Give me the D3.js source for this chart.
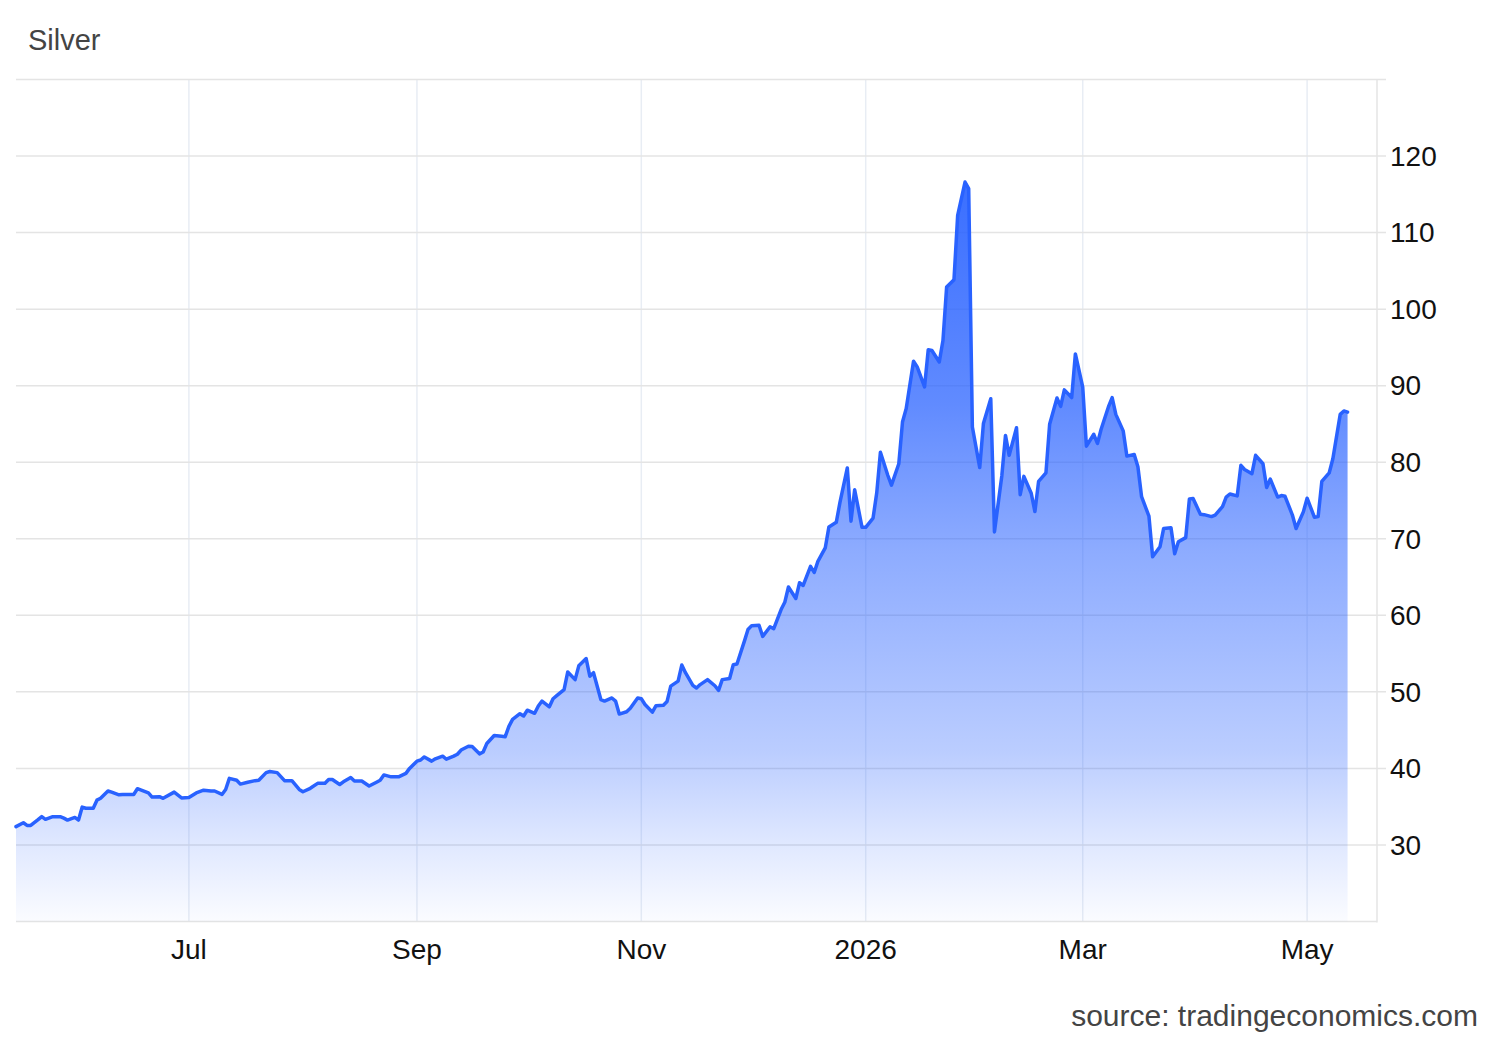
<!DOCTYPE html>
<html><head><meta charset="utf-8">
<script src="https://cdn.jsdelivr.net/npm/d3@7"></script>
<style>
html,body{margin:0;padding:0;background:#fff;}
svg{display:block;font-family:"Liberation Sans",Arial,Helvetica,sans-serif;}
</style></head><body>
<svg id="chart" width="1500" height="1040"></svg>
<script>
const title = "Silver";
const sourceText = "source: tradingeconomics.com";

const dates = [
"2025-05-15","2025-05-17","2025-05-18","2025-05-19","2025-05-21","2025-05-22","2025-05-23","2025-05-25","2025-05-27","2025-05-28","2025-05-29","2025-05-31",
"2025-06-01","2025-06-02","2025-06-03","2025-06-05","2025-06-06","2025-06-07","2025-06-09","2025-06-10","2025-06-12","2025-06-13","2025-06-16","2025-06-17","2025-06-20","2025-06-21","2025-06-23","2025-06-24","2025-06-27","2025-06-29",
"2025-07-01","2025-07-03","2025-07-05","2025-07-07","2025-07-08","2025-07-10","2025-07-11","2025-07-12","2025-07-14","2025-07-15","2025-07-17","2025-07-19","2025-07-20","2025-07-22","2025-07-23","2025-07-25","2025-07-27","2025-07-29","2025-07-31",
"2025-08-01","2025-08-03","2025-08-05","2025-08-07","2025-08-08","2025-08-09","2025-08-11","2025-08-12","2025-08-14","2025-08-15","2025-08-17","2025-08-19","2025-08-21","2025-08-22","2025-08-23","2025-08-25","2025-08-27","2025-08-29","2025-08-30",
"2025-09-01","2025-09-02","2025-09-03","2025-09-05","2025-09-06","2025-09-08","2025-09-09","2025-09-11","2025-09-12","2025-09-13","2025-09-15","2025-09-16","2025-09-18","2025-09-19","2025-09-20","2025-09-22","2025-09-24","2025-09-25","2025-09-26","2025-09-27","2025-09-29","2025-09-30",
"2025-10-01","2025-10-03","2025-10-04","2025-10-05","2025-10-07","2025-10-08","2025-10-09","2025-10-11","2025-10-12","2025-10-14","2025-10-15","2025-10-17","2025-10-18","2025-10-19","2025-10-21","2025-10-22","2025-10-24","2025-10-25","2025-10-26","2025-10-28","2025-10-29","2025-10-31",
"2025-11-01","2025-11-02","2025-11-04","2025-11-05","2025-11-07","2025-11-08","2025-11-09","2025-11-11","2025-11-12","2025-11-13","2025-11-15","2025-11-16","2025-11-17","2025-11-19","2025-11-21","2025-11-22","2025-11-23","2025-11-25","2025-11-26","2025-11-27","2025-11-29","2025-11-30",
"2025-12-01","2025-12-03","2025-12-04","2025-12-06","2025-12-07","2025-12-09","2025-12-10","2025-12-11","2025-12-13","2025-12-14","2025-12-15","2025-12-17","2025-12-18","2025-12-19","2025-12-21","2025-12-22","2025-12-24","2025-12-25","2025-12-27","2025-12-28","2025-12-29","2025-12-31",
"2026-01-01","2026-01-03","2026-01-04","2026-01-05","2026-01-07","2026-01-08","2026-01-10","2026-01-11","2026-01-12","2026-01-14","2026-01-15","2026-01-17","2026-01-18","2026-01-19","2026-01-21","2026-01-22","2026-01-23","2026-01-25","2026-01-26","2026-01-28","2026-01-29","2026-01-30",
"2026-02-01","2026-02-02","2026-02-04","2026-02-05","2026-02-07","2026-02-08","2026-02-09","2026-02-11","2026-02-12","2026-02-13","2026-02-15","2026-02-16","2026-02-17","2026-02-19","2026-02-20","2026-02-22","2026-02-23","2026-02-24","2026-02-26","2026-02-27",
"2026-03-01","2026-03-02","2026-03-04","2026-03-05","2026-03-06","2026-03-08","2026-03-09","2026-03-10","2026-03-12","2026-03-13","2026-03-15","2026-03-16","2026-03-17","2026-03-19","2026-03-20","2026-03-22","2026-03-23","2026-03-25","2026-03-26","2026-03-27","2026-03-29","2026-03-30","2026-03-31",
"2026-04-02","2026-04-03","2026-04-05","2026-04-06","2026-04-08","2026-04-09","2026-04-10","2026-04-12","2026-04-13","2026-04-14","2026-04-16","2026-04-17","2026-04-19","2026-04-20","2026-04-21","2026-04-23","2026-04-24","2026-04-25","2026-04-27","2026-04-28","2026-04-30",
"2026-05-01","2026-05-03","2026-05-04","2026-05-05","2026-05-07","2026-05-08","2026-05-10","2026-05-11","2026-05-12"
];

const prices = [
32.4,32.9,32.55,32.55,33.3,33.7,33.35,33.7,33.7,33.5,33.25,33.6,
33.25,34.95,34.8,34.8,35.85,36.1,37.05,36.9,36.55,36.6,36.6,37.35,36.8,36.25,36.3,36.1,36.9,36.15,
36.2,36.8,37.15,37.05,37.05,36.6,37.25,38.7,38.45,37.95,38.2,38.4,38.45,39.45,39.6,39.45,38.4,38.4,37.25,
36.95,37.4,38.05,38.05,38.55,38.55,37.9,38.25,38.8,38.35,38.35,37.7,38.2,38.45,39.15,38.9,38.9,39.35,40.0,
40.95,41.1,41.5,40.95,41.25,41.6,41.2,41.6,41.85,42.4,42.9,42.85,41.9,42.15,43.25,44.3,44.2,44.15,45.5,46.4,47.15,46.85,
47.6,47.2,48.15,48.8,48.05,49.1,49.5,50.3,52.6,51.6,53.4,54.35,52.05,52.5,49.0,48.8,49.2,48.8,47.1,47.4,47.85,49.2,
49.1,48.35,47.35,48.2,48.25,48.75,50.75,51.4,53.5,52.5,50.85,50.5,50.95,51.6,50.8,50.2,51.6,51.75,53.55,53.65,56.6,58.15,
58.65,58.7,57.25,58.5,58.25,60.75,61.7,63.7,62.2,64.25,63.9,66.4,65.6,67.05,68.8,71.55,72.15,74.75,79.25,72.3,76.4,71.5,
71.5,72.7,76.0,81.3,78.3,77.0,79.8,85.25,87.0,93.2,92.45,89.85,94.7,94.6,93.1,95.9,102.9,103.85,112.25,116.6,115.75,84.6,
79.3,85.05,88.3,70.9,78.2,83.5,80.9,84.5,75.75,78.15,75.95,73.55,77.5,78.6,84.95,88.4,87.3,89.45,88.45,94.15,
89.8,82.1,83.65,82.45,84.3,87.25,88.45,86.25,84.1,80.8,81.0,79.4,75.5,72.95,67.65,68.95,71.35,71.45,68.05,69.6,70.15,75.2,75.25,
73.2,73.15,72.9,73.1,74.2,75.45,75.85,75.6,79.6,79.05,78.5,80.9,79.8,76.7,77.8,75.45,75.65,75.55,73.1,71.35,73.55,
75.3,72.8,72.9,77.5,78.6,80.45,86.25,86.7,86.55
];

const yTickValues = [30,40,50,60,70,80,90,100,110,120];
const yGridValues = [30,40,50,60,70,80,90,100,110,120,130];
const xTickDates = ["2025-07-01","2025-09-01","2025-11-01","2026-01-01","2026-03-01","2026-05-01"];
const xTickLabels = ["Jul","Sep","Nov","2026","Mar","May"];
const xDomain = ["2025-05-15","2026-05-20"];
const yDomain = [20,130];

(function(){
const parse = d3.timeParse("%Y-%m-%d");
const data = dates.map((d,i)=>({date:parse(d), v:prices[i]}));

const svg = d3.select("#chart");
const pL = 16, pR = 1377, pT = 79.5, pB = 921.5;

const x = d3.scaleTime().domain(xDomain.map(parse)).range([pL,pR]);
const y = d3.scaleLinear().domain(yDomain).range([pB,pT]);

const defs = svg.append("defs");
const grad = defs.append("linearGradient").attr("id","fillGrad")
  .attr("gradientUnits","userSpaceOnUse")
  .attr("x1",0).attr("x2",0)
  .attr("y1", y(d3.max(prices))).attr("y2", pB);
[[0,0.92],[0.3,0.74],[0.5,0.53],[0.77,0.32],[0.9,0.14],[1,0.02]].forEach(([o,a])=>{
  grad.append("stop").attr("offset",o).attr("stop-color","#2962ff").attr("stop-opacity",a);
});

svg.append("g").selectAll("line").data(xTickDates).join("line")
  .attr("x1",d=>x(parse(d))).attr("x2",d=>x(parse(d)))
  .attr("y1",pT).attr("y2",pB)
  .attr("stroke","#e8edf4").attr("stroke-width",1.5);

svg.append("g").selectAll("line").data(yGridValues).join("line")
  .attr("x1",pL).attr("x2",pR+9)
  .attr("y1",d=>y(d)).attr("y2",d=>y(d))
  .attr("stroke","#e4e4e4").attr("stroke-width",1.5);

svg.append("line").attr("x1",pL).attr("x2",pR).attr("y1",pB).attr("y2",pB)
  .attr("stroke","#e4e4e4").attr("stroke-width",1.5);
svg.append("line").attr("x1",pR).attr("x2",pR).attr("y1",pT).attr("y2",pB+1)
  .attr("stroke","#e4e4e4").attr("stroke-width",1.5);

const area = d3.area().x(d=>x(d.date)).y0(pB).y1(d=>y(d.v));
svg.append("path").datum(data).attr("d",area).attr("fill","url(#fillGrad)");

const line = d3.line().x(d=>x(d.date)).y(d=>y(d.v));
svg.append("path").datum(data).attr("d",line)
  .attr("fill","none").attr("stroke","#2962ff").attr("stroke-width",3.5)
  .attr("stroke-linejoin","round").attr("stroke-linecap","round");

svg.append("g").selectAll("text").data(yTickValues).join("text")
  .attr("x",pR+13).attr("y",d=>y(d)).attr("dy","0.35em")
  .attr("font-size",28).attr("fill","#111").text(d=>d);

svg.append("g").selectAll("text").data(xTickDates).join("text")
  .attr("x",d=>x(parse(d))).attr("y",959)
  .attr("text-anchor","middle").attr("font-size",28).attr("fill","#111")
  .text((d,i)=>xTickLabels[i]);

svg.append("text").attr("x",28).attr("y",50).attr("font-size",29).attr("fill","#444").text(title);
svg.append("text").attr("x",1478).attr("y",1026).attr("text-anchor","end")
  .attr("font-size",30).attr("fill","#444").text(sourceText);
})();
</script>
</body></html>
